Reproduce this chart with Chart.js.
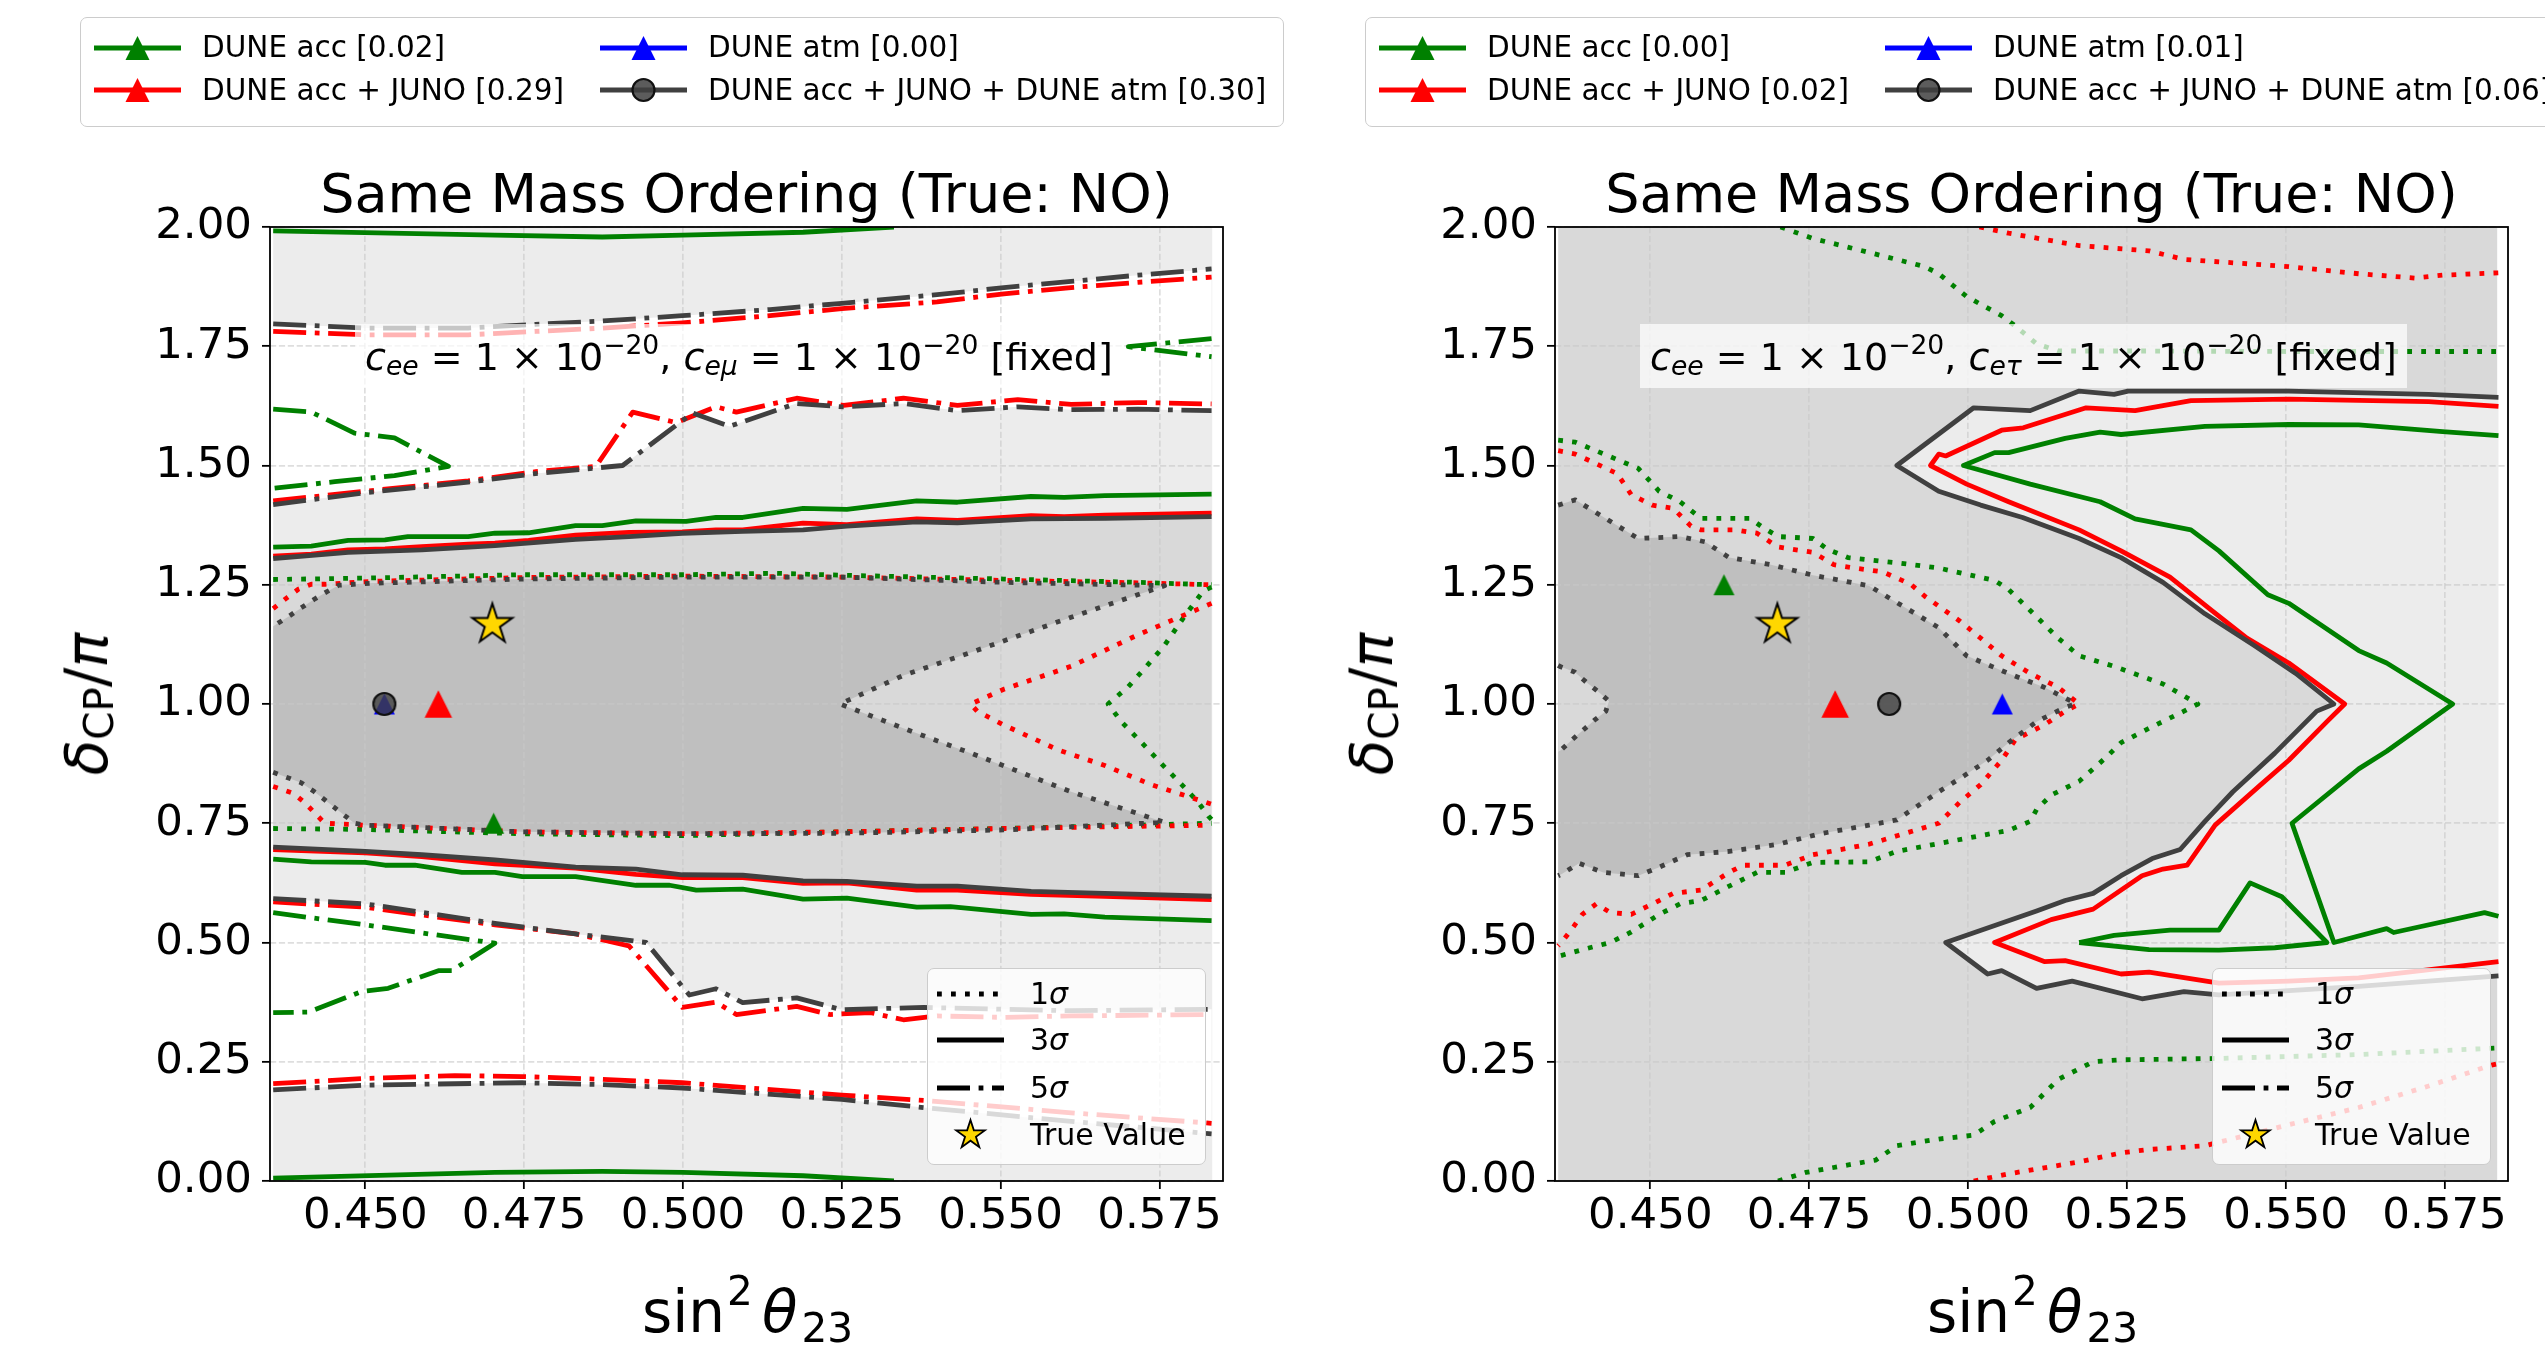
<!DOCTYPE html>
<html>
<head>
<meta charset="utf-8">
<title>Same Mass Ordering (True: NO)</title>
<script src="https://cdn.jsdelivr.net/npm/chart.js@4.4.1/dist/chart.umd.min.js"></script>
<style>
  html, body { margin: 0; padding: 0; background: #fff; }
  body { position: relative; width: 2545px; height: 1348px; overflow: hidden;
         font-family: "DejaVu Sans", sans-serif; color: #000; }
  canvas { position: absolute; top: 0; }
  .txt { position: absolute; white-space: nowrap; }
  .sm { font-size: 70%; position: relative; line-height: 0; }
  .lgd { position: absolute; box-sizing: border-box; background: rgba(255,255,255,0.8);
         border: 1.7px solid #cccccc; border-radius: 7px; }
  .ann { position: absolute; background: rgba(255,255,255,0.7); }
  svg { position: absolute; overflow: visible; }
</style>
</head>
<body>
<canvas id="chartMu" width="1272" height="1348" style="left:0px"></canvas>
<canvas id="chartTau" width="1273" height="1348" style="left:1272px"></canvas>
<script>
/* ----------------- Axes / ticks ----------------- */
const xTicks = [0.450, 0.475, 0.500, 0.525, 0.550, 0.575];
const xTickLabels = ['0.450', '0.475', '0.500', '0.525', '0.550', '0.575'];
const yTicks = [0.00, 0.25, 0.50, 0.75, 1.00, 1.25, 1.50, 1.75, 2.00];
const yTickLabels = ['0.00', '0.25', '0.50', '0.75', '1.00', '1.25', '1.50', '1.75', '2.00'];
const xRange = [0.435, 0.585];
const yRange = [0, 2];
const scanX = [0.4355, 0.5833];   // sin^2 theta23 scan window
const scanY = [0, 2];

/* ----------------- Best fits / true value ----------------- */
const trueValue = [0.470, 1.1667];
const muFitAcc = [0.4702, 0.75];
const muFitJuno = [0.4615, 1.00];
const muFitAtm = [0.4530, 1.00];
const muFitAll = [0.4530, 1.00];
const tauFitAcc = [0.4616, 1.25];
const tauFitJuno = [0.4791, 1.00];
const tauFitAtm = [0.5054, 1.00];
const tauFitAll = [0.4876, 1.00];

/* legend order: acc, acc+JUNO, atm, acc+JUNO+atm */
const muLabels = ['DUNE acc [0.02]', 'DUNE acc + JUNO [0.29]', 'DUNE atm [0.00]', 'DUNE acc + JUNO + DUNE atm [0.30]'];
const tauLabels = ['DUNE acc [0.00]', 'DUNE acc + JUNO [0.02]', 'DUNE atm [0.01]', 'DUNE acc + JUNO + DUNE atm [0.06]'];
const sigmaLevels = ['1', '3', '5'];

/* ----------------- c_emu panel contours [sin2, dCP/pi] ----------------- */
const muGreen3sTop = [[0.4355,1.992],[0.4704,1.983],[0.4873,1.979],[0.5000,1.983],[0.5189,1.989],[0.5332,2.000]];
const muGreen3sBot = [[0.4355,0.006],[0.4704,0.018],[0.4873,0.020],[0.5000,0.018],[0.5189,0.011],[0.5332,0.000]];
const muGreen3sUp = [[0.4355,1.329],[0.4415,1.331],[0.4473,1.343],[0.4531,1.344],[0.4567,1.351],[0.4662,1.351],[0.4704,1.358],[0.4757,1.359],[0.4831,1.374],[0.4873,1.374],[0.4926,1.384],[0.5005,1.383],[0.5052,1.391],[0.5094,1.391],[0.5189,1.410],[0.5258,1.408],[0.5368,1.426],[0.5432,1.423],[0.5548,1.435],[0.5600,1.433],[0.5664,1.437],[0.5832,1.440]];
const muGreen3sLow = [[0.4355,0.675],[0.4415,0.669],[0.4500,0.668],[0.4531,0.662],[0.4578,0.662],[0.4652,0.647],[0.4704,0.647],[0.4747,0.638],[0.4831,0.638],[0.4926,0.620],[0.4979,0.620],[0.5021,0.610],[0.5094,0.612],[0.5189,0.591],[0.5258,0.593],[0.5368,0.574],[0.5421,0.575],[0.5548,0.559],[0.5600,0.560],[0.5664,0.553],[0.5832,0.546]];
const muRed3sUp = [[0.4355,1.310],[0.4415,1.314],[0.4473,1.323],[0.4531,1.325],[0.4589,1.330],[0.4662,1.335],[0.4704,1.337],[0.4757,1.343],[0.4831,1.354],[0.4915,1.360],[0.4999,1.361],[0.5052,1.365],[0.5094,1.365],[0.5189,1.379],[0.5258,1.376],[0.5368,1.388],[0.5432,1.385],[0.5548,1.395],[0.5600,1.393],[0.5664,1.396],[0.5832,1.400]];
const muRed3sLow = [[0.4355,0.695],[0.4500,0.688],[0.4589,0.680],[0.4704,0.665],[0.4831,0.656],[0.4926,0.643],[0.4999,0.636],[0.5094,0.636],[0.5189,0.624],[0.5258,0.625],[0.5368,0.610],[0.5432,0.610],[0.5548,0.601],[0.5664,0.597],[0.5832,0.590]];
const muGrey3sUp = [[0.4355,1.305],[0.4473,1.318],[0.4589,1.323],[0.4704,1.332],[0.4831,1.345],[0.4915,1.351],[0.4999,1.358],[0.5094,1.362],[0.5189,1.365],[0.5258,1.373],[0.5368,1.382],[0.5432,1.380],[0.5548,1.388],[0.5664,1.389],[0.5832,1.393]];
const muGrey3sLow = [[0.4355,0.700],[0.4500,0.691],[0.4589,0.684],[0.4704,0.673],[0.4831,0.658],[0.4926,0.654],[0.4999,0.642],[0.5094,0.641],[0.5189,0.629],[0.5258,0.628],[0.5368,0.618],[0.5432,0.618],[0.5548,0.607],[0.5664,0.603],[0.5832,0.597]];

const muGrey5sTop = [[0.4355,1.797],[0.4504,1.788],[0.4662,1.788],[0.4768,1.796],[0.4873,1.803],[0.4999,1.814],[0.5137,1.827],[0.5250,1.840],[0.5400,1.858],[0.5505,1.873],[0.5611,1.886],[0.5716,1.899],[0.5832,1.912]];
const muRed5sTop = [[0.4355,1.781],[0.4504,1.774],[0.4662,1.774],[0.4768,1.781],[0.4873,1.788],[0.4999,1.799],[0.5137,1.814],[0.5250,1.829],[0.5400,1.843],[0.5505,1.860],[0.5611,1.873],[0.5716,1.884],[0.5832,1.895]];
const muGreen5sTR = [[0.5832,1.766],[0.5701,1.749],[0.5832,1.728]];
const muGreen5sUL = [[0.4355,1.618],[0.4415,1.612],[0.4483,1.568],[0.4546,1.558],[0.4631,1.498],[0.4546,1.479],[0.4452,1.466],[0.4355,1.452]];
const muGreen5sLL = [[0.4355,0.5625],[0.4500,0.537],[0.4704,0.4985],[0.4636,0.441],[0.4615,0.441],[0.4536,0.404],[0.4494,0.397],[0.4410,0.354],[0.4355,0.353]];
const muGrey5sMidUp = [[0.4355,1.418],[0.4500,1.443],[0.4662,1.465],[0.4768,1.483],[0.4905,1.500],[0.5015,1.610],[0.5073,1.582],[0.5178,1.630],[0.5252,1.623],[0.5347,1.630],[0.5432,1.615],[0.5527,1.623],[0.5611,1.617],[0.5716,1.618],[0.5832,1.615]];
const muRed5sMidUp = [[0.4355,1.426],[0.4500,1.446],[0.4662,1.468],[0.4768,1.487],[0.4863,1.498],[0.4921,1.612],[0.4989,1.590],[0.5052,1.623],[0.5084,1.612],[0.5179,1.641],[0.5253,1.626],[0.5347,1.641],[0.5432,1.626],[0.5527,1.638],[0.5611,1.628],[0.5716,1.632],[0.5832,1.629]];
const muGrey5sMidLow = [[0.4355,0.592],[0.4500,0.581],[0.4610,0.559],[0.4704,0.540],[0.4831,0.518],[0.4942,0.500],[0.5010,0.390],[0.5052,0.403],[0.5094,0.374],[0.5179,0.384],[0.5250,0.359],[0.5379,0.364],[0.5505,0.360],[0.5611,0.357],[0.5832,0.360]];
const muRed5sMidLow = [[0.4355,0.585],[0.4500,0.574],[0.4704,0.537],[0.4831,0.518],[0.4915,0.493],[0.4999,0.364],[0.5052,0.375],[0.5084,0.349],[0.5179,0.366],[0.5231,0.349],[0.5295,0.353],[0.5347,0.338],[0.5400,0.346],[0.5505,0.343],[0.5611,0.346],[0.5832,0.349]];
const muGrey5sBot = [[0.4355,0.191],[0.4500,0.201],[0.4747,0.206],[0.4873,0.202],[0.4999,0.195],[0.5250,0.171],[0.5379,0.154],[0.5611,0.125],[0.5832,0.099]];
const muRed5sBot = [[0.4355,0.204],[0.4500,0.215],[0.4641,0.221],[0.4747,0.219],[0.4873,0.213],[0.4999,0.206],[0.5250,0.180],[0.5379,0.169],[0.5611,0.143],[0.5832,0.121]];

const muGreen1sUp = [[0.4355,1.261],[0.4500,1.264],[0.4747,1.271],[0.4999,1.271],[0.5147,1.274],[0.5250,1.270],[0.5505,1.262],[0.5716,1.255],[0.5832,1.250]];
const muGreen1sV = [[0.5832,1.245],[0.5819,1.237],[0.5790,1.185],[0.5758,1.123],[0.5727,1.075],[0.5700,1.035],[0.5669,1.000],[0.5690,0.963],[0.5722,0.919],[0.5753,0.875],[0.5785,0.831],[0.5811,0.794],[0.5827,0.765],[0.5832,0.758]];
const muGreen1sLow = [[0.4355,0.739],[0.4500,0.737],[0.4747,0.728],[0.4999,0.724],[0.5250,0.732],[0.5505,0.739],[0.5832,0.750]];
const muRed1sUp = [[0.4355,1.200],[0.4377,1.223],[0.4395,1.241],[0.4415,1.251],[0.4437,1.251],[0.4508,1.257],[0.4747,1.265],[0.4999,1.268],[0.5250,1.266],[0.5505,1.259],[0.5716,1.254],[0.5832,1.250]];
const muRed1sV = [[0.5832,1.211],[0.5716,1.145],[0.5611,1.079],[0.5505,1.031],[0.5453,1.000],[0.5463,0.985],[0.5505,0.956],[0.5590,0.904],[0.5664,0.871],[0.5737,0.831],[0.5832,0.790]];
const muRed1sLow = [[0.4355,0.827],[0.4387,0.8125],[0.4404,0.794],[0.4420,0.772],[0.4436,0.750],[0.4500,0.746],[0.4747,0.732],[0.4999,0.728],[0.5250,0.732],[0.5505,0.739],[0.5832,0.746]];
const muGrey1s = [[0.4355,0.857],[0.4399,0.835],[0.4420,0.816],[0.4441,0.794],[0.4462,0.772],[0.4483,0.750],[0.4500,0.746],[0.4747,0.732],[0.4999,0.728],[0.5250,0.729],[0.5505,0.736],[0.5758,0.752],[0.5611,0.816],[0.5453,0.897],[0.5347,0.949],[0.5247,1.000],[0.5347,1.060],[0.5453,1.108],[0.5611,1.182],[0.5758,1.248],[0.5505,1.255],[0.5250,1.266],[0.4999,1.266],[0.4747,1.262],[0.4508,1.253],[0.4458,1.249],[0.4439,1.235],[0.4419,1.219],[0.4399,1.2015],[0.4380,1.184],[0.4355,1.163]];

/* ----------------- c_etau panel contours ----------------- */
const tauGrey3s = [[0.5835,1.643],[0.5725,1.649],[0.5505,1.656],[0.5340,1.656],[0.5252,1.656],[0.5230,1.649],[0.5175,1.656],[0.5098,1.615],[0.5009,1.621],[0.4888,1.500],[0.4954,1.446],[0.5020,1.417],[0.5086,1.391],[0.5175,1.347],[0.5241,1.307],[0.5307,1.255],[0.5373,1.189],[0.5450,1.123],[0.5516,1.064],[0.5576,1.000],[0.5549,0.985],[0.5483,0.897],[0.5417,0.816],[0.5373,0.754],[0.5334,0.695],[0.5290,0.676],[0.5241,0.640],[0.5197,0.603],[0.5153,0.588],[0.5108,0.566],[0.4965,0.500],[0.5031,0.434],[0.5053,0.441],[0.5108,0.404],[0.5164,0.419],[0.5274,0.382],[0.5340,0.397],[0.5395,0.390],[0.5615,0.408],[0.5835,0.430]];
const tauRed3s = [[0.5835,1.624],[0.5725,1.634],[0.5505,1.639],[0.5351,1.636],[0.5263,1.615],[0.5186,1.621],[0.5087,1.579],[0.5053,1.574],[0.4965,1.520],[0.4954,1.524],[0.4941,1.500],[0.4998,1.461],[0.5064,1.424],[0.5175,1.365],[0.5241,1.321],[0.5318,1.266],[0.5384,1.196],[0.5439,1.138],[0.5505,1.086],[0.5593,1.000],[0.5565,0.963],[0.5505,0.882],[0.5461,0.831],[0.5389,0.746],[0.5345,0.662],[0.5307,0.654],[0.5274,0.640],[0.5197,0.570],[0.5131,0.548],[0.5042,0.500],[0.5120,0.460],[0.5153,0.462],[0.5241,0.434],[0.5285,0.438],[0.5395,0.415],[0.5505,0.419],[0.5615,0.426],[0.5835,0.460]];
const tauGreen3s = [[0.5835,1.5625],[0.5747,1.571],[0.5615,1.585],[0.5505,1.586],[0.5373,1.582],[0.5241,1.565],[0.5208,1.570],[0.5153,1.557],[0.5064,1.527],[0.5042,1.527],[0.4993,1.500],[0.5098,1.461],[0.5208,1.424],[0.5263,1.388],[0.5351,1.365],[0.5395,1.321],[0.5472,1.229],[0.5505,1.211],[0.5615,1.112],[0.5659,1.086],[0.5763,1.000],[0.5659,0.901],[0.5615,0.864],[0.5510,0.750],[0.5576,0.500],[0.5659,0.529],[0.5670,0.521],[0.5813,0.5625],[0.5835,0.555]];
const tauGreen3sLoop = [[0.5175,0.500],[0.5230,0.515],[0.5318,0.526],[0.5395,0.526],[0.5444,0.625],[0.5494,0.596],[0.5565,0.500],[0.5483,0.489],[0.5395,0.484],[0.5285,0.485],[0.5175,0.500]];

const tauGreen1s = [[0.4355,1.553],[0.4382,1.549],[0.4481,1.494],[0.4514,1.446],[0.4547,1.424],[0.4564,1.406],[0.4580,1.389],[0.4657,1.389],[0.4674,1.373],[0.4701,1.351],[0.4756,1.347],[0.4778,1.325],[0.4811,1.307],[0.4888,1.296],[0.4954,1.285],[0.5042,1.259],[0.5064,1.240],[0.5098,1.196],[0.5142,1.138],[0.5175,1.101],[0.5230,1.079],[0.5307,1.042],[0.5362,1.000],[0.5340,0.985],[0.5285,0.949],[0.5241,0.919],[0.5219,0.890],[0.5175,0.838],[0.5131,0.809],[0.5108,0.779],[0.5098,0.754],[0.5064,0.735],[0.4976,0.713],[0.4888,0.691],[0.4844,0.669],[0.4756,0.668],[0.4712,0.647],[0.4668,0.647],[0.4624,0.618],[0.4580,0.588],[0.4547,0.581],[0.4514,0.559],[0.4470,0.522],[0.4437,0.500],[0.4393,0.485],[0.4355,0.471]];
const tauGreen1sTop = [[0.4705,2.000],[0.4756,1.976],[0.4855,1.943],[0.4932,1.917],[0.4954,1.902],[0.4998,1.854],[0.5053,1.814],[0.5075,1.792],[0.5108,1.755],[0.5142,1.740],[0.5285,1.740],[0.5505,1.739],[0.5835,1.739]];
const tauGreen1sBot = [[0.4701,0.000],[0.4745,0.018],[0.4855,0.044],[0.4888,0.074],[0.4954,0.088],[0.5009,0.096],[0.5042,0.125],[0.5098,0.154],[0.5142,0.213],[0.5197,0.250],[0.5241,0.254],[0.5395,0.257],[0.5615,0.265],[0.5835,0.279]];
const tauRed1s = [[0.4355,1.531],[0.4382,1.524],[0.4448,1.483],[0.4470,1.439],[0.4503,1.417],[0.4536,1.410],[0.4564,1.373],[0.4580,1.365],[0.4635,1.365],[0.4668,1.358],[0.4701,1.329],[0.4756,1.318],[0.4789,1.292],[0.4822,1.285],[0.4866,1.277],[0.4910,1.251],[0.4932,1.226],[0.4987,1.174],[0.5020,1.138],[0.5053,1.101],[0.5098,1.064],[0.5142,1.035],[0.5175,1.000],[0.5153,0.985],[0.5120,0.956],[0.5075,0.926],[0.5053,0.882],[0.5020,0.831],[0.4987,0.794],[0.4954,0.750],[0.4899,0.728],[0.4844,0.706],[0.4756,0.684],[0.4712,0.662],[0.4646,0.662],[0.4624,0.647],[0.4580,0.610],[0.4536,0.603],[0.4514,0.588],[0.4470,0.559],[0.4437,0.563],[0.4415,0.581],[0.4393,0.559],[0.4377,0.529],[0.4360,0.500],[0.4355,0.493]];
const tauRed1sTop = [[0.5018,2.000],[0.5064,1.987],[0.5175,1.961],[0.5285,1.950],[0.5340,1.932],[0.5505,1.917],[0.5615,1.902],[0.5703,1.893],[0.5747,1.899],[0.5835,1.904]];
const tauRed1sBot = [[0.5009,0.000],[0.5064,0.015],[0.5175,0.040],[0.5241,0.059],[0.5285,0.066],[0.5373,0.074],[0.5505,0.118],[0.5615,0.154],[0.5725,0.199],[0.5824,0.243],[0.5835,0.246]];
const tauGrey1s = [[0.4355,1.417],[0.4382,1.428],[0.4481,1.347],[0.4547,1.351],[0.4586,1.340],[0.4624,1.307],[0.4690,1.292],[0.4756,1.270],[0.4844,1.248],[0.4899,1.204],[0.4954,1.160],[0.4998,1.101],[0.5064,1.064],[0.5120,1.035],[0.5164,1.005],[0.5169,1.000],[0.5153,0.993],[0.5108,0.963],[0.5064,0.919],[0.5031,0.882],[0.4998,0.853],[0.4954,0.816],[0.4888,0.757],[0.4844,0.746],[0.4767,0.728],[0.4701,0.706],[0.4624,0.691],[0.4558,0.684],[0.4514,0.658],[0.4481,0.640],[0.4426,0.647],[0.4388,0.666],[0.4360,0.643],[0.4355,0.640]];
const tauGrey1sNotch = [[0.4355,1.081],[0.4359,1.078],[0.4381,1.067],[0.4399,1.046],[0.4417,1.027],[0.4435,1.006],[0.4430,0.985],[0.4412,0.966],[0.4394,0.945],[0.4376,0.924],[0.4359,0.903],[0.4355,0.900]];

/* ----------------- Styles ----------------- */
const FONT = 'DejaVu Sans';
const GREEN = '#008000', RED = '#ff0000', BLUE = '#0000ff', GREY = '#404040';
const SHADE_DARK = '#bfbfbf', SHADE_MID = '#d9d9d9', SHADE_LIGHT = '#ececec', SHADE_NONE = '#ffffff';
const LW = 4.8;
const DOT = [4.8, 9.2], DASHDOT = [33, 8.6, 4.8, 8.6];
const GRID_COLOR = 'rgba(200,200,200,0.6)';
const W = 2545, H = 1348;
const PLOT_TOP = 227, PLOT_BOTTOM = 1181;
const Y_AXIS_W = 200, X_AXIS_H = 80;
const TICK_SIZE = 43.5, LABEL_SIZE = 58, TITLE_SIZE = 54, LEGEND_SIZE = 29.5, NOTE_SIZE = 38;

/* ----------------- Helpers ----------------- */
const $ = id => document.getElementById(id);
const pts = a => a.map(([x, y]) => ({x, y}));
const band = (lo, hi) => lo.concat(hi.slice().reverse());
const scanBox = [[scanX[0], scanY[0]], [scanX[1], scanY[0]], [scanX[1], scanY[1]], [scanX[0], scanY[1]]];

function markerImg(shape, size, face, edge, edgeW) {
  const pad = Math.ceil(edgeW || 0) + 2;
  const c = document.createElement('canvas');
  c.width = c.height = Math.ceil(size + 2 * pad);
  const g = c.getContext('2d');
  const m = c.width / 2, R = size / 2;
  g.beginPath();
  if (shape === 'tri') { g.moveTo(m, m - R); g.lineTo(m + R, m + R); g.lineTo(m - R, m + R); g.closePath(); }
  else if (shape === 'circle') { g.arc(m, m, R, 0, 2 * Math.PI); }
  else { starPath(g, m, m, R); }
  g.fillStyle = face; g.fill();
  if (edgeW) { g.lineWidth = edgeW; g.strokeStyle = edge; g.stroke(); }
  return c;
}
function starPath(g, cx, cy, R) {
  for (let k = 0; k < 10; k++) {
    const r = k % 2 ? R * 0.382 : R, a = -Math.PI / 2 + k * Math.PI / 5;
    const px = cx + r * Math.cos(a), py = cy + r * Math.sin(a);
    k ? g.lineTo(px, py) : g.moveTo(px, py);
  }
  g.closePath();
}

function shade(poly, color) { return {data: pts(poly), shade: color, borderWidth: 0, pointRadius: 0, order: 90}; }
function line(a, color, dash, order) {
  return {data: pts(a), borderColor: color, borderWidth: LW, borderDash: dash, borderJoinStyle: 'round',
          pointRadius: 0, fill: false, order};
}
function mark(p, img, order) { return {data: pts([p]), showLine: false, pointStyle: img, pointRadius: 10, order}; }

/* shaded confidence regions, drawn under the grid like matplotlib's contourf */
const shadePlugin = {
  id: 'shade',
  beforeDraw(chart) {
    const ctx = chart.ctx, a = chart.chartArea;
    ctx.save();
    ctx.beginPath(); ctx.rect(a.left, a.top, a.right - a.left, a.bottom - a.top); ctx.clip();
    chart.data.datasets.forEach((ds, i) => {
      if (!ds.shade) return;
      const els = chart.getDatasetMeta(i).data;
      ctx.beginPath();
      els.forEach((p, k) => k ? ctx.lineTo(p.x, p.y) : ctx.moveTo(p.x, p.y));
      ctx.closePath();
      ctx.fillStyle = ds.shade;
      ctx.fill();
    });
    ctx.restore();
  }
};
const framePlugin = {
  id: 'frame',
  afterDraw(chart) {
    const ctx = chart.ctx, a = chart.chartArea;
    ctx.save(); ctx.lineWidth = 1.8; ctx.strokeStyle = '#000';
    ctx.strokeRect(a.left, a.top, a.right - a.left, a.bottom - a.top);
    ctx.restore();
  }
};

function axisX() {
  return {
    type: 'linear', min: xRange[0], max: xRange[1], bounds: 'data',
    afterBuildTicks: s => { s.ticks = xTicks.map(v => ({value: v})); },
    afterFit: s => { s.height = X_AXIS_H; s.paddingLeft = 0; s.paddingRight = 0; },
    ticks: {font: {family: FONT, size: TICK_SIZE}, color: '#000', padding: 2, maxRotation: 0, autoSkip: false,
            callback: (v, i) => xTickLabels[i]},
    grid: {color: GRID_COLOR, lineWidth: 1.7, tickColor: '#000', tickLength: 8, tickWidth: 1.8},
    border: {display: false, dash: [6.2, 2.7]}
  };
}
function axisY() {
  return {
    type: 'linear', min: yRange[0], max: yRange[1], bounds: 'data',
    afterBuildTicks: s => { s.ticks = yTicks.map(v => ({value: v})); },
    afterFit: s => { s.width = Y_AXIS_W; s.paddingTop = 0; s.paddingBottom = 0; },
    ticks: {font: {family: FONT, size: TICK_SIZE}, color: '#000', padding: 10, autoSkip: false,
            callback: (v, i) => yTickLabels[i]},
    grid: {color: GRID_COLOR, lineWidth: 1.7, tickColor: '#000', tickLength: 8, tickWidth: 1.8},
    border: {display: false, dash: [6.2, 2.7]}
  };
}

function makeChart(id, canvasLeft, canvasW, plotL, plotR, datasets) {
  return new Chart($(id), {
    type: 'line',
    data: {datasets},
    options: {
      responsive: false, animation: false, events: [],
      layout: {autoPadding: false, padding: {left: plotL - canvasLeft - Y_AXIS_W, right: canvasLeft + canvasW - plotR,
                                            top: PLOT_TOP, bottom: H - PLOT_BOTTOM - X_AXIS_H}},
      plugins: {legend: {display: false}, tooltip: {enabled: false}},
      elements: {line: {tension: 0}, point: {radius: 0}},
      scales: {x: axisX(), y: axisY()}
    },
    plugins: [shadePlugin, framePlugin]
  });
}

/* ----------------- Markers ----------------- */
const imgStar = markerImg('star', 42, '#ffd700', '#000', 2);
const imgTriRed = markerImg('tri', 27.5, RED);
const imgTriGreen = markerImg('tri', 21, GREEN);
const imgTriBlue = markerImg('tri', 21, BLUE);
const imgCircle = markerImg('circle', 22, 'rgba(64,64,64,0.8)', '#111', 2.2);

/* ----------------- Left panel: c_emu ----------------- */
makeChart('chartMu', 0, 1272, 270, 1223, [
  shade(scanBox, SHADE_LIGHT),
  shade(band(muGrey5sMidUp, muGrey5sTop), SHADE_NONE),
  shade(band(muGrey5sBot, muGrey5sMidLow), SHADE_NONE),
  shade(band(muGrey3sLow, muGrey3sUp), SHADE_MID),
  shade(muGrey1s, SHADE_DARK),
  line(muGreen3sTop, GREEN, [], 30), line(muGreen3sBot, GREEN, [], 30),
  line(muGreen3sUp, GREEN, [], 30), line(muGreen3sLow, GREEN, [], 30),
  line(muGreen5sTR, GREEN, DASHDOT, 30), line(muGreen5sUL, GREEN, DASHDOT, 30), line(muGreen5sLL, GREEN, DASHDOT, 30),
  line(muGreen1sUp, GREEN, DOT, 30), line(muGreen1sV, GREEN, DOT, 30), line(muGreen1sLow, GREEN, DOT, 30),
  line(muRed3sUp, RED, [], 20), line(muRed3sLow, RED, [], 20),
  line(muRed5sTop, RED, DASHDOT, 20), line(muRed5sMidUp, RED, DASHDOT, 20),
  line(muRed5sMidLow, RED, DASHDOT, 20), line(muRed5sBot, RED, DASHDOT, 20),
  line(muRed1sUp, RED, DOT, 20), line(muRed1sV, RED, DOT, 20), line(muRed1sLow, RED, DOT, 20),
  line(muGrey3sUp, GREY, [], 10), line(muGrey3sLow, GREY, [], 10),
  line(muGrey5sTop, GREY, DASHDOT, 10), line(muGrey5sMidUp, GREY, DASHDOT, 10),
  line(muGrey5sMidLow, GREY, DASHDOT, 10), line(muGrey5sBot, GREY, DASHDOT, 10),
  line(muGrey1s, GREY, DOT, 10),
  mark(muFitAtm, imgTriBlue, 5), mark(muFitAll, imgCircle, 4),
  mark(muFitJuno, imgTriRed, 3), mark(muFitAcc, imgTriGreen, 3),
  mark(trueValue, imgStar, 1)
]);

/* ----------------- Right panel: c_etau ----------------- */
makeChart('chartTau', 1272, 1273, 1555, 2508, [
  shade(scanBox, SHADE_MID),
  shade(tauGrey3s, SHADE_LIGHT),
  shade(tauGrey1s, SHADE_DARK),
  shade(tauGrey1sNotch, SHADE_MID),
  line(tauGreen3s, GREEN, [], 30), line(tauGreen3sLoop, GREEN, [], 30),
  line(tauGreen1s, GREEN, DOT, 30), line(tauGreen1sTop, GREEN, DOT, 30), line(tauGreen1sBot, GREEN, DOT, 30),
  line(tauRed3s, RED, [], 20),
  line(tauRed1s, RED, DOT, 20), line(tauRed1sTop, RED, DOT, 20), line(tauRed1sBot, RED, DOT, 20),
  line(tauGrey3s, GREY, [], 10),
  line(tauGrey1s, GREY, DOT, 10), line(tauGrey1sNotch, GREY, DOT, 10),
  mark(tauFitAtm, imgTriBlue, 5), mark(tauFitAll, imgCircle, 4),
  mark(tauFitJuno, imgTriRed, 3), mark(tauFitAcc, imgTriGreen, 3),
  mark(trueValue, imgStar, 1)
]);

/* ----------------- Text overlays ----------------- */
function addEl(cls, css) {
  const d = document.createElement('div');
  d.className = cls;
  Object.assign(d.style, css);
  document.body.appendChild(d);
  return d;
}
function addText(html, x, baseline, size, center) {
  const d = addEl('txt', {fontSize: size + 'px', lineHeight: size + 'px', left: x + 'px',
                          top: (baseline - 0.846 * size) + 'px'});
  if (center) d.style.transform = 'translateX(-50%)';
  d.innerHTML = html;
  return d;
}
function addRotated(html, cx, cy, size) {
  const d = addEl('txt', {fontSize: size + 'px', lineHeight: size + 'px', left: cx + 'px', top: cy + 'px',
                          transform: 'translate(-50%,-50%) rotate(-90deg)'});
  d.innerHTML = html;
}
function svgMarker(kind, cx, cy) {
  if (kind === 'circle') return `<circle cx="${cx}" cy="${cy}" r="11" fill="rgba(64,64,64,0.85)" stroke="#111" stroke-width="2.2"/>`;
  if (kind === 'star') {
    let p = [];
    for (let k = 0; k < 10; k++) {
      const r = k % 2 ? 15 * 0.382 : 15, a = -Math.PI / 2 + k * Math.PI / 5;
      p.push((cx + r * Math.cos(a)).toFixed(2) + ',' + (cy + r * Math.sin(a)).toFixed(2));
    }
    return `<polygon points="${p.join(' ')}" fill="#ffd700" stroke="#000" stroke-width="1.8"/>`;
  }
  const s = 12;
  return `<polygon points="${cx},${cy - s} ${cx + s},${cy + s} ${cx - s},${cy + s}" fill="${kind}"/>`;
}
function addHandle(x, y, len, color, dash, marker) {
  let s = `<svg width="${len}" height="2" style="left:${x}px;top:${y - 1}px">`;
  if (color) s += `<line x1="0" y1="1" x2="${len}" y2="1" stroke="${color}" stroke-width="${LW}"` +
                  (dash ? ` stroke-dasharray="${dash.join(' ')}"` : '') + `/>`;
  if (marker) s += svgMarker(marker, len / 2, 1);
  s += '</svg>';
  document.body.insertAdjacentHTML('beforeend', s);
}

const sm = (t, em, ml) => `<span class="sm" style="top:${em}em;margin-left:${ml || 0}px">${t}</span>`;
const TITLE = 'Same Mass Ordering (True: NO)';
const XLABEL = 'sin' + sm('2', -0.66, 2) + '<i style="margin-left:9px">θ</i>' + sm('23', 0.25, 4);
const YLABEL = '<i>δ</i>' + sm('CP', 0.16) + '/<i>π</i>';
const coupling = f => `<i>c</i>${sm('<i>ee</i>', 0.2)} = 1 × 10${sm('−20', -0.58)}, <i>c</i>${sm('<i>e' + f + '</i>', 0.2)} = 1 × 10${sm('−20', -0.58)} [fixed]`;

function decorate(plotL, plotR, labels, flavour) {
  const cx = (plotL + plotR) / 2;
  addText(TITLE, cx, 213, TITLE_SIZE, true);
  addText(XLABEL, cx + 1, 1332, LABEL_SIZE, true);
  addRotated(YLABEL, plotL - 183.4, (PLOT_TOP + PLOT_BOTTOM) / 2, LABEL_SIZE);

  // coupling annotation
  addEl('ann', {left: (plotL + 85) + 'px', top: '324px', width: '767px', height: '64px'});
  addText(coupling(flavour), plotL + 95, 370, NOTE_SIZE, false);

  // experiment legend (2 columns)
  const bx = plotL - 190;
  addEl('lgd', {left: bx + 'px', top: '17px', width: '1204px', height: '110px'});
  const styles = [[GREEN, GREEN], [RED, RED], [BLUE, BLUE], [GREY, 'circle']];
  const rows = [47.7, 90];
  labels.forEach((lab, i) => {
    const col = Math.floor(i / 2), row = i % 2;
    const hx = bx + 14 + col * 506;
    addHandle(hx, rows[row], 87, styles[i][0], null, styles[i][1]);
    addText(lab, hx + 108, rows[row] + 10.7, LEGEND_SIZE, false);
  });

  // sigma legend
  const lx = plotR - 296, ly = 968;
  addEl('lgd', {left: lx + 'px', top: ly + 'px', width: '279px', height: '197px'});
  const dashes = [DOT, null, DASHDOT];
  const hy = [26, 72.2, 119.6, 167];
  sigmaLevels.forEach((s, i) => {
    addHandle(lx + 10, ly + hy[i], 67, '#000', dashes[i], null);
    addText(s + '<i>σ</i>', lx + 103, ly + hy[i] + 10.4, 30, false);
  });
  addHandle(lx + 10, ly + hy[3], 67, null, null, 'star');
  addText('True Value', lx + 103, ly + hy[3] + 10.4, 30, false);
}

decorate(270, 1223, muLabels, 'μ');
decorate(1555, 2508, tauLabels, 'τ');
</script>
</body>
</html>
